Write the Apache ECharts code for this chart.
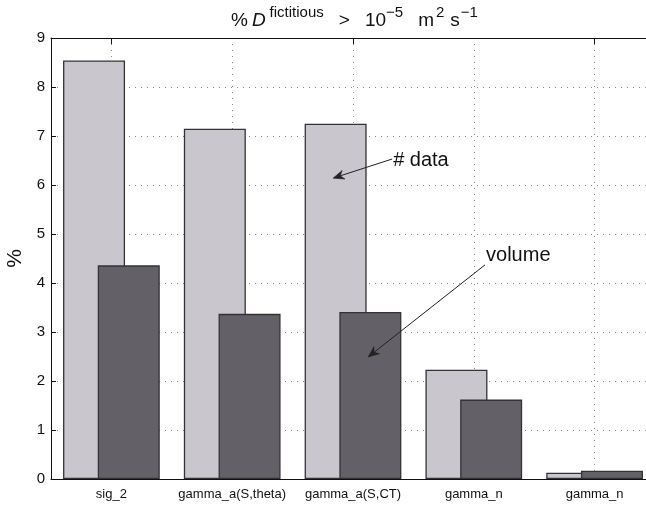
<!DOCTYPE html>
<html>
<head>
<meta charset="utf-8">
<script src="https://cdn.jsdelivr.net/npm/echarts@6/dist/echarts.min.js"></script>
<style>
  html, body { margin: 0; padding: 0; background: #ffffff; overflow: hidden; width: 646px; height: 506px; }
  /* the axes box runs a little past the right edge of the window */
  #chart { width: 660px; height: 506px; }
</style>
</head>
<body>
<div id="chart"></div>
<script>
// Share of points flagged with fictitious diffusivity above 1e-5 m^2/s, per variable
const categories = ['sig_2', 'gamma_a(S,theta)', 'gamma_a(S,CT)', 'gamma_n', 'gamma_n'];
const dataPct   = [8.54, 7.15, 7.25, 2.23, 0.13];   // "# data"
const volumePct = [4.36, 3.37, 3.41, 1.62, 0.17];   // "volume"
const yMin = 0, yMax = 9, yStep = 1;

// Callouts: label, arrow tail and arrow head as [category index, percent]
const callouts = [
  { text: '# data', tail: [2.324, 6.53], head: [1.835, 6.14], align: 'middle' },
  { text: 'volume', tail: [3.093, 4.37], head: [2.125, 2.49], align: 'bottom' }
];

const FONT = '"Liberation Sans", Arial, Helvetica, sans-serif';
const lightFill = '#c9c7cd';
const darkFill  = '#636167';
const edge      = '#333333';

const chart = echarts.init(document.getElementById('chart'), null, { renderer: 'canvas' });

const base = { fontFamily: FONT, color: '#111', fontWeight: 'normal' };
const main = Object.assign({ fontSize: 19, lineHeight: 30, verticalAlign: 'bottom' }, base);
const sup  = Object.assign({ fontSize: 15, lineHeight: 18, verticalAlign: 'top' }, base);
function pad(style, top, left) {
  return Object.assign({}, style, { padding: [top, 0, 0, left] });
}

const option = {
  backgroundColor: '#ffffff',
  animation: false,
  textStyle: { fontFamily: FONT },
  title: {
    left: 231,
    top: 0,
    padding: 0,
    text: '{n|%}{ip|D}{s3|fictitious}{g15|>}{g15|10}{s0|\u22125}{g15|m}{s2|2}{g6|s}{s1|\u22121}',
    textStyle: {
      fontWeight: 'normal',
      rich: {
        n:   main,
        ip:  Object.assign({}, main, { fontStyle: 'italic', padding: [0, 0, 0, 4] }),
        g15: Object.assign({}, main, { padding: [0, 0, 0, 15] }),
        g6:  Object.assign({}, main, { padding: [0, 0, 0, 6] }),
        s0:  pad(sup, 5, 0),
        s1:  pad(sup, 5, 1),
        s2:  pad(sup, 5, 2),
        s3:  pad(sup, 5, 4)
      }
    }
  },
  grid: { left: 51, top: 38, right: 5, bottom: 27, containLabel: false, outerBoundsMode: 'none' },
  xAxis: [
    {
      type: 'category',
      data: categories,
      position: 'bottom',
      axisLine: { show: true, lineStyle: { color: '#111', width: 1 } },
      axisTick: { show: false },
      axisLabel: { fontFamily: FONT, fontSize: 13, color: '#111', margin: 9, interval: 0 },
      splitLine: {
        show: true,
        alignWithLabel: true,
        lineStyle: { color: '#8a8a8a', width: 1, type: [1, 5] }
      }
    },
    {
      type: 'category',
      data: categories,
      position: 'top',
      axisLine: { show: true, lineStyle: { color: '#111', width: 1 } },
      axisTick: { show: true, inside: true, alignWithLabel: true, length: 6, lineStyle: { color: '#111' } },
      axisLabel: { show: false },
      splitLine: { show: false }
    }
  ],
  yAxis: {
    type: 'value',
    min: yMin,
    max: yMax,
    interval: yStep,
    name: '%',
    nameLocation: 'middle',
    nameGap: 23,
    nameTextStyle: { fontFamily: FONT, fontSize: 21, color: '#111' },
    axisLine: { show: true, lineStyle: { color: '#111', width: 1 } },
    axisTick: { show: true, inside: true, length: 5, lineStyle: { color: '#111' } },
    axisLabel: { fontFamily: FONT, fontSize: 15, color: '#111', margin: 6 },
    splitLine: { show: true, lineStyle: { color: '#8a8a8a', width: 1, type: [1, 5] } }
  },
  series: [
    {
      name: '# data',
      type: 'bar',
      data: dataPct,
      barWidth: 62,
      barGap: '-44%',
      itemStyle: { color: lightFill, borderColor: edge, borderWidth: 1.3 }
    },
    {
      name: 'volume',
      type: 'bar',
      data: volumePct,
      barWidth: 62,
      barGap: '-44%',
      itemStyle: { color: darkFill, borderColor: edge, borderWidth: 1.3 }
    }
  ]
};

chart.setOption(option);

// Convert a [category index, percent] pair to pixels through the axes
function toPx(pt) {
  const x0 = chart.convertToPixel({ xAxisIndex: 0 }, 0);
  const x1 = chart.convertToPixel({ xAxisIndex: 0 }, 1);
  const x = x0 + pt[0] * (x1 - x0);
  const y = chart.convertToPixel({ yAxisIndex: 0 }, pt[1]);
  return [x, y];
}

// Barbed arrowhead pointing from tail to tip
function arrowHead(tail, tip, len, halfW, back) {
  const dx = tip[0] - tail[0], dy = tip[1] - tail[1];
  const L = Math.hypot(dx, dy);
  const ux = dx / L, uy = dy / L;
  const nx = -uy, ny = ux;
  const bx = tip[0] - ux * len, by = tip[1] - uy * len;
  const nxp = tip[0] - ux * (len - back), nyp = tip[1] - uy * (len - back);
  return [
    tip,
    [bx + nx * halfW, by + ny * halfW],
    [nxp, nyp],
    [bx - nx * halfW, by - ny * halfW]
  ];
}

const graphics = [];
callouts.forEach(function (c) {
  const t = toPx(c.tail);
  const h = toPx(c.head);
  const headPts = arrowHead(t, h, 11, 4.5, 3.5);
  graphics.push({
    type: 'line',
    shape: { x1: t[0], y1: t[1], x2: headPts[2][0], y2: headPts[2][1] },
    style: { stroke: '#222', lineWidth: 1 },
    z: 10
  });
  graphics.push({
    type: 'polygon',
    shape: { points: headPts },
    style: { fill: '#222', stroke: '#222', lineWidth: 0.6 },
    z: 10
  });
  graphics.push({
    type: 'text',
    x: t[0] + 1,
    y: t[1] + 1,
    style: {
      text: c.text,
      font: '20px ' + FONT,
      fill: '#111',
      textAlign: 'left',
      textVerticalAlign: c.align
    },
    z: 10
  });
});
chart.setOption({ graphic: graphics });
</script>
</body>
</html>
